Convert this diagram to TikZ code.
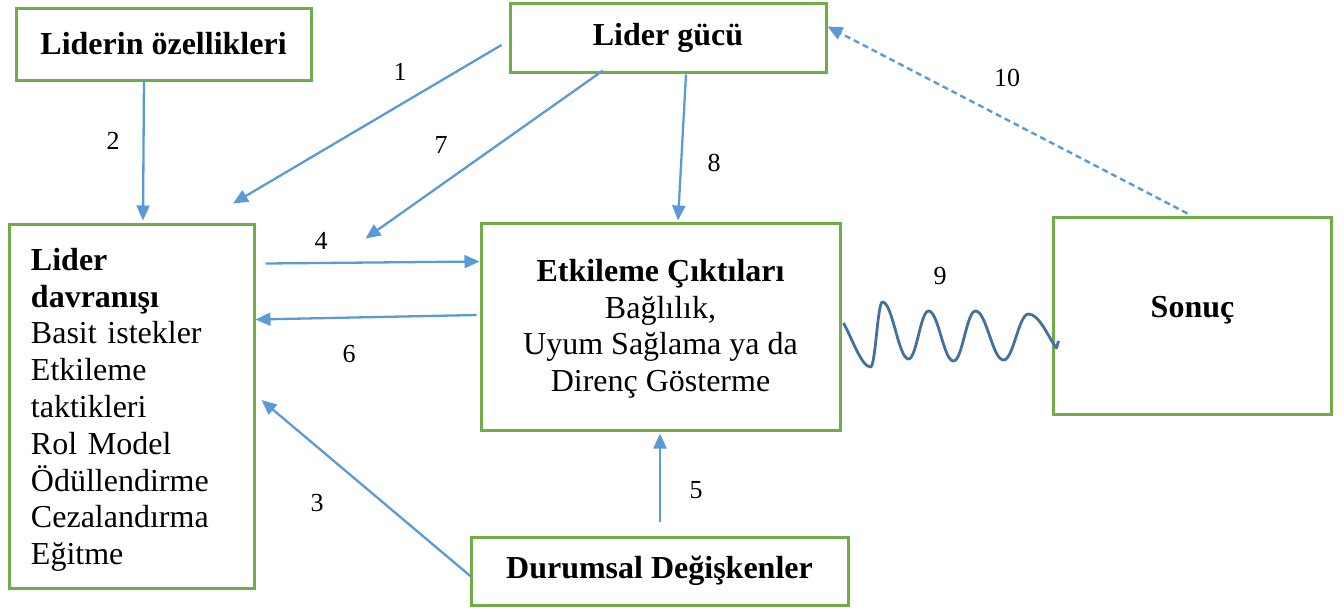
\documentclass[tikz,border=0pt]{standalone}
\usepackage{fontspec}
\setmainfont{Liberation Serif}
\usetikzlibrary{arrows.meta,calc}
\definecolor{boxgreen}{HTML}{70AD47}
\definecolor{arrowblue}{HTML}{5B9BD5}
\definecolor{waveblue}{HTML}{41719C}

\begin{document}
\begin{tikzpicture}[x=0.5pt,y=-0.5pt,
  box/.style={draw=boxgreen, line width=1.5pt, inner sep=0pt,
    font=\fontsize{16}{18.4}\selectfont, align=center},
  link/.style={draw=arrowblue, line width=1.15pt,
    -{Triangle[length=7.5pt,width=6.5pt]}},
  feedback/.style={link, line width=1.2pt, dash pattern=on 3pt off 2pt},
  wave/.style={draw=waveblue, line width=1.4pt, line join=round},
  num/.style={font=\fontsize{13}{15}\selectfont, inner sep=0pt},
]
\useasboundingbox (0,0) rectangle (1344,611);

% boxes
\node[box, minimum width=147.5pt, minimum height=36pt] (oz) at (163.5,44)
  {\textbf{Liderin özellikleri}};
\node[box, minimum width=158pt, minimum height=34.5pt] (guc) at (668,37.5)
  {\textbf{Lider gücü}};
\node[box, minimum width=122.5pt, minimum height=182pt, text width=100.5pt,
  align=left] (ld) at (131.5,406)
  {\rule{0pt}{15pt}\textbf{Lider}\\\textbf{davranışı}\\Basit istekler\\Etkileme\\taktikleri\\Rol Model\\Ödüllendirme\\Cezalandırma\\Eğitme};
\node[box, minimum width=179.5pt, minimum height=103.5pt] (etk) at (660.5,326.5)
  {\rule{0pt}{13.4pt}\textbf{Etkileme Çıktıları}\\Bağlılık,\\Uyum Sağlama ya da\\Direnç Gösterme};
\node[box, minimum width=139pt, minimum height=98.5pt] (son) at (1192.5,315.5)
  {\textbf{Sonuç}\rule[-8.5pt]{0pt}{8.5pt}};
\node[box, minimum width=188.5pt, minimum height=34pt] (dur) at (659.5,571)
  {\textbf{Durumsal Değişkenler}};

% connectors
\draw[link] ($(guc.west)+(-7,7.5)$) -- ($(ld.north)+(101.5,-19)$);
\draw[link] ($(oz.south)+(-19.5,-2)$) -- ($(ld.north)+(11.5,-2)$);
\draw[link] ($(ld.north east)+(10,41)$) -- ($(etk.north west)+(0,40)$);
\draw[link] ($(etk.west)+(-3,-11.5)$) -- ($(ld.north east)+(0,97)$);
\draw[link] ($(dur.west)+(2,6)$) -- ($(ld.east)+(6,-6)$);
\draw[link] ($(dur.north)+(0.5,-14)$) -- ($(etk.south)+(-0.5,2)$);
\draw[link] ($(guc.south)+(-65,-3)$) -- ($(etk.north west)+(-114,17)$);
\draw[link] ($(guc.south)+(18,1)$) -- ($(etk.north)+(17.5,-1)$);
\draw[feedback] ($(son.north)+(-5,-2)$) -- ($(guc.north east)+(0,25)$);

% wavy link between outcomes and result
\coordinate (w0) at ($(etk.east)+(2,-3.5)$);
\draw[wave] (w0)
  .. controls +(8,14) and +(-9,0) .. ++(27,44)
  .. controls +(5,0) and +(-5,0) .. ++(12,-65)
  .. controls +(10,0) and +(-10,0) .. ++(26,57)
  .. controls +(8,0) and +(-8,0) .. ++(20,-48)
  .. controls +(10,0) and +(-10,0) .. ++(25,50)
  .. controls +(9,0) and +(-9,0) .. ++(22,-50)
  .. controls +(11,0) and +(-11,0) .. ++(28,49)
  .. controls +(10,0) and +(-10,0) .. ++(25,-46)
  .. controls +(11,0) and +(-8,-10) .. ++(28,34)
  -- ++(2,-7);

% numbers
\node[num] (n1) at (400,72) {1};
\node[num] (n2) at (113,141) {2};
\node[num] (n3) at (317,503) {3};
\node[num] (n4) at (321,241) {4};
\node[num] (n5) at (696,490) {5};
\node[num] (n6) at (349,354) {6};
\node[num] (n7) at (441,145) {7};
\node[num] (n8) at (714,163) {8};
\node[num] (n9) at (940,276) {9};
\node[num] (n10) at (1007,78) {10};
\end{tikzpicture}
\end{document}
